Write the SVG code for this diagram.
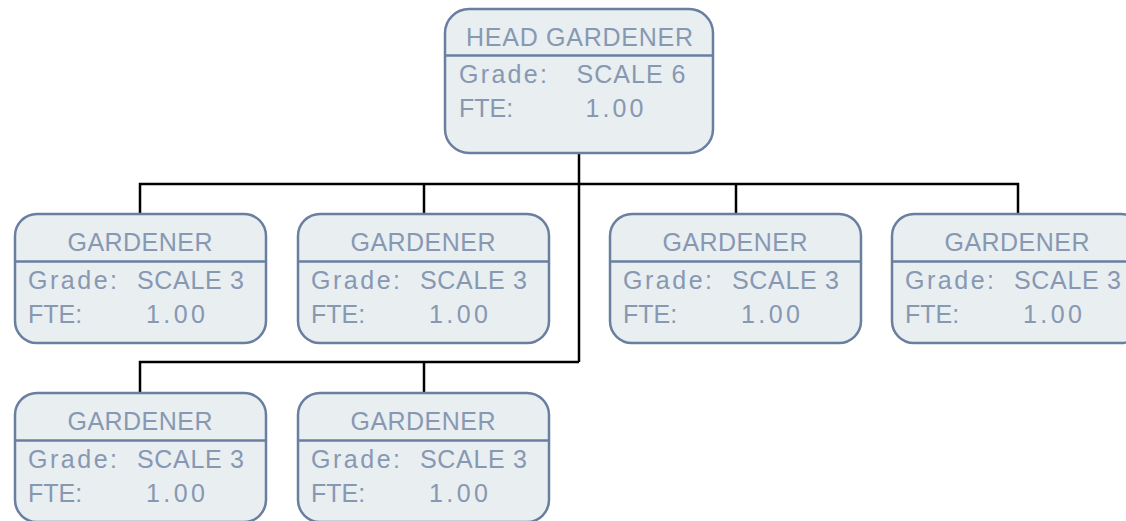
<svg xmlns="http://www.w3.org/2000/svg" width="1126" height="521" viewBox="0 0 1126 521">
<style>
.box{fill:#e9eef1;stroke:#6a7fa0;stroke-width:2.5}
.div{stroke:#6a7fa0;stroke-width:2.5}
.t{font-family:"Liberation Sans",Arial,sans-serif;font-size:25px;fill:#8798b2}
.c{text-anchor:middle}
.conn{fill:none;stroke:#000;stroke-width:2.5}
</style>
<rect width="1126" height="521" fill="#fff"/>
<g id="connectors" class="conn">
<path d="M579 153 V362"/>
<path d="M140 214 V184 H1018 V214"/>
<path d="M424 184 V214"/>
<path d="M736 184 V214"/>
<path d="M140 393 V362 H579"/>
<path d="M424 362 V393"/>
</g>
<g id="head">
<rect class="box" x="445" y="9" width="268" height="144" rx="24"/>
<line class="div" x1="446" y1="55.5" x2="712" y2="55.5"/>
<text class="t c" x="579.5" y="46" textLength="227" lengthAdjust="spacing">HEAD GARDENER</text>
<text class="t" x="459" y="83" textLength="88" lengthAdjust="spacing">Grade:</text>
<text class="t" x="576.5" y="83" textLength="109" lengthAdjust="spacing">SCALE 6</text>
<text class="t" x="459" y="117">FTE:</text>
<text class="t" x="585.5" y="117" textLength="58" lengthAdjust="spacing">1.00</text>
</g>
<g id="gardener1" transform="translate(15,214)">
<rect class="box" x="0" y="0" width="251" height="129" rx="22"/>
<line class="div" x1="1" y1="47.5" x2="250" y2="47.5"/>
<text class="t c" x="125" y="37" textLength="145" lengthAdjust="spacing">GARDENER</text>
<text class="t" x="13" y="75" textLength="89" lengthAdjust="spacing">Grade:</text>
<text class="t" x="122" y="75" textLength="107" lengthAdjust="spacing">SCALE 3</text>
<text class="t" x="13" y="109">FTE:</text>
<text class="t" x="131" y="109" textLength="59" lengthAdjust="spacing">1.00</text>
</g>
<g id="gardener2" transform="translate(298,214)">
<rect class="box" x="0" y="0" width="251" height="129" rx="22"/>
<line class="div" x1="1" y1="47.5" x2="250" y2="47.5"/>
<text class="t c" x="125" y="37" textLength="145" lengthAdjust="spacing">GARDENER</text>
<text class="t" x="13" y="75" textLength="89" lengthAdjust="spacing">Grade:</text>
<text class="t" x="122" y="75" textLength="107" lengthAdjust="spacing">SCALE 3</text>
<text class="t" x="13" y="109">FTE:</text>
<text class="t" x="131" y="109" textLength="59" lengthAdjust="spacing">1.00</text>
</g>
<g id="gardener3" transform="translate(610,214)">
<rect class="box" x="0" y="0" width="251" height="129" rx="22"/>
<line class="div" x1="1" y1="47.5" x2="250" y2="47.5"/>
<text class="t c" x="125" y="37" textLength="145" lengthAdjust="spacing">GARDENER</text>
<text class="t" x="13" y="75" textLength="89" lengthAdjust="spacing">Grade:</text>
<text class="t" x="122" y="75" textLength="107" lengthAdjust="spacing">SCALE 3</text>
<text class="t" x="13" y="109">FTE:</text>
<text class="t" x="131" y="109" textLength="59" lengthAdjust="spacing">1.00</text>
</g>
<g id="gardener4" transform="translate(892,214)">
<rect class="box" x="0" y="0" width="251" height="129" rx="22"/>
<line class="div" x1="1" y1="47.5" x2="250" y2="47.5"/>
<text class="t c" x="125" y="37" textLength="145" lengthAdjust="spacing">GARDENER</text>
<text class="t" x="13" y="75" textLength="89" lengthAdjust="spacing">Grade:</text>
<text class="t" x="122" y="75" textLength="107" lengthAdjust="spacing">SCALE 3</text>
<text class="t" x="13" y="109">FTE:</text>
<text class="t" x="131" y="109" textLength="59" lengthAdjust="spacing">1.00</text>
</g>
<g id="gardener5" transform="translate(15,393)">
<rect class="box" x="0" y="0" width="251" height="129" rx="22"/>
<line class="div" x1="1" y1="47.5" x2="250" y2="47.5"/>
<text class="t c" x="125" y="37" textLength="145" lengthAdjust="spacing">GARDENER</text>
<text class="t" x="13" y="75" textLength="89" lengthAdjust="spacing">Grade:</text>
<text class="t" x="122" y="75" textLength="107" lengthAdjust="spacing">SCALE 3</text>
<text class="t" x="13" y="109">FTE:</text>
<text class="t" x="131" y="109" textLength="59" lengthAdjust="spacing">1.00</text>
</g>
<g id="gardener6" transform="translate(298,393)">
<rect class="box" x="0" y="0" width="251" height="129" rx="22"/>
<line class="div" x1="1" y1="47.5" x2="250" y2="47.5"/>
<text class="t c" x="125" y="37" textLength="145" lengthAdjust="spacing">GARDENER</text>
<text class="t" x="13" y="75" textLength="89" lengthAdjust="spacing">Grade:</text>
<text class="t" x="122" y="75" textLength="107" lengthAdjust="spacing">SCALE 3</text>
<text class="t" x="13" y="109">FTE:</text>
<text class="t" x="131" y="109" textLength="59" lengthAdjust="spacing">1.00</text>
</g>
</svg>
